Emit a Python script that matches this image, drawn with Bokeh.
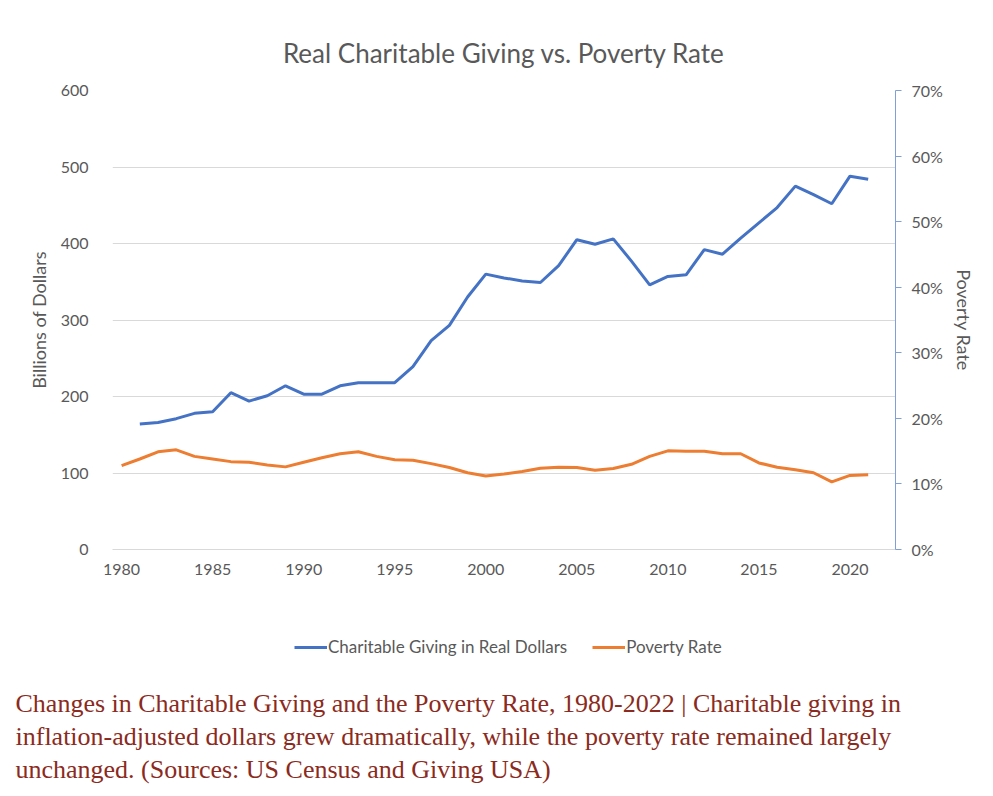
from bokeh.plotting import figure
from bokeh.layouts import column
from bokeh.models import (Range1d, LinearAxis, FixedTicker, PrintfTickFormatter,
                          Legend, LegendItem, Label)
from bokeh.embed import file_html
from bokeh.resources import INLINE

# ---------------- data ----------------
giving_years = list(range(1981, 2022))
giving_billions = [164, 166, 171, 178, 180, 205, 194, 201, 214, 203,
                   203, 214, 218, 218, 218, 239, 273, 293, 330, 360,
                   355, 351, 349, 371, 405, 399, 406, 377, 346, 357,
                   359, 392, 386, 407, 427, 447, 475, 464, 452, 488,
                   484]
poverty_years = list(range(1980, 2022))
poverty_rate_pct = [12.8, 13.8, 14.9, 15.2, 14.2, 13.8, 13.4, 13.3, 12.9, 12.6,
                    13.3, 14.0, 14.6, 14.9, 14.2, 13.7, 13.6, 13.1, 12.5, 11.7,
                    11.2, 11.5, 11.9, 12.4, 12.55, 12.5, 12.1, 12.35, 13.0, 14.2,
                    15.05, 15.0, 15.0, 14.6, 14.6, 13.2, 12.55, 12.15, 11.7, 10.3,
                    11.3, 11.4]
x_ticks = [1980, 1985, 1990, 1995, 2000, 2005, 2010, 2015, 2020]
left_ticks = [0, 100, 200, 300, 400, 500, 600]
right_ticks = [0, 10, 20, 30, 40, 50, 60, 70]

title_text = "Real Charitable Giving vs. Poverty Rate"
series_names = ["Charitable Giving in Real Dollars", "Poverty Rate"]
caption_lines = [
    "Changes in Charitable Giving and the Poverty Rate, 1980-2022 | Charitable giving in",
    "inflation-adjusted dollars grew dramatically, while the poverty rate remained largely",
    "unchanged. (Sources: US Census and Giving USA)",
]

BLUE = "#4472C4"
ORANGE = "#ED7D31"
GRAY = "#595959"
GRID = "#D9D9D9"
FONT = "Lato"
CAPTION_COLOR = "#8B2A20"

W = 977

# ---------------- chart ----------------
p = figure(width=W, height=600, output_backend="svg", toolbar_location=None,
           x_range=Range1d(1979.5, 2022.5), y_range=Range1d(0, 600),
           min_border_left=112, min_border_right=80, min_border_top=90,
           min_border_bottom=51, y_axis_location=None)
p.frame_align = False
p.outline_line_color = None
p.background_fill_color = "white"
p.border_fill_color = "white"

p.title.text = title_text
p.title.align = "center"
p.title.text_font = FONT
p.title.text_font_size = "26px"
p.title.text_font_style = "normal"
p.title.text_color = GRAY
p.title.standoff = 43

p.extra_y_ranges = {"pov": Range1d(0, 70)}

ly = LinearAxis(ticker=FixedTicker(ticks=left_ticks), axis_label="Billions of Dollars")
ly.axis_line_color = None
ly.major_tick_line_color = None
ly.minor_tick_line_color = None
ly.major_label_standoff = 18
ly.major_label_text_font = FONT
ly.major_label_text_font_size = "16px"
ly.major_label_text_color = GRAY
ly.axis_label_text_font = FONT
ly.axis_label_text_font_size = "18px"
ly.axis_label_text_font_style = "normal"
ly.axis_label_text_color = GRAY
ly.axis_label_standoff = 8
p.add_layout(ly, "left")

ry = LinearAxis(y_range_name="pov", ticker=FixedTicker(ticks=right_ticks),
                formatter=PrintfTickFormatter(format="%d%%"), axis_label="Poverty Rate")
ry.axis_line_color = "#7F9FD6"
ry.axis_line_width = 1
ry.major_tick_line_color = "#7F9FD6"
ry.major_tick_out = 6
ry.major_tick_in = 0
ry.minor_tick_line_color = None
ry.major_label_standoff = 10
ry.major_label_text_font = FONT
ry.major_label_text_font_size = "16px"
ry.major_label_text_color = GRAY
ry.axis_label_text_font = FONT
ry.axis_label_text_font_size = "18px"
ry.axis_label_text_font_style = "normal"
ry.axis_label_text_color = GRAY
ry.axis_label_standoff = 7
p.add_layout(ry, "right")

xa = p.xaxis[0]
xa.ticker = FixedTicker(ticks=x_ticks)
xa.axis_line_color = GRID
xa.major_tick_line_color = None
xa.minor_tick_line_color = None
xa.major_label_standoff = 8
xa.major_label_text_font = FONT
xa.major_label_text_font_size = "16px"
xa.major_label_text_color = GRAY

p.xgrid.grid_line_color = None
p.ygrid.grid_line_color = GRID
p.ygrid.ticker = FixedTicker(ticks=left_ticks)

p.line(giving_years, giving_billions, line_color=BLUE, line_width=3)
p.line(poverty_years, poverty_rate_pct, line_color=ORANGE, line_width=3,
       y_range_name="pov")

# ---------------- legend + caption ----------------
QH = 190
q = figure(width=W, height=QH, output_backend="svg", toolbar_location=None,
           x_range=Range1d(0, 1), y_range=Range1d(0, 1),
           x_axis_location=None, y_axis_location=None,
           min_border_left=0, min_border_right=0, min_border_top=0, min_border_bottom=0)
q.frame_align = False
q.outline_line_color = None
q.grid.grid_line_color = None
q.background_fill_color = "white"
q.border_fill_color = "white"

nan = float("nan")
k1 = q.line([nan], [nan], line_color=BLUE, line_width=3)
k2 = q.line([nan], [nan], line_color=ORANGE, line_width=3)
legend = Legend(items=[LegendItem(label=series_names[0], renderers=[k1]),
                       LegendItem(label=series_names[1], renderers=[k2])],
                location=(294, QH - 57), orientation="horizontal")
legend.glyph_width = 33
legend.label_standoff = 1
legend.padding = 0
legend.margin = 0
legend.spacing = 25
legend.border_line_color = None
legend.background_fill_alpha = 0
legend.label_text_font = FONT
legend.label_text_font_size = "17px"
legend.label_text_color = GRAY
q.add_layout(legend, "center")

for i, line in enumerate(caption_lines):
    q.add_layout(Label(x=15, y=QH - 103 - 33 * i, x_units="screen", y_units="screen",
                       text=line, text_align="left", text_baseline="alphabetic",
                       text_font="Liberation Serif", text_font_size="26px",
                       text_color=CAPTION_COLOR))

layout = column(p, q, spacing=0)
open("out.html", "w").write(file_html(layout, INLINE))
